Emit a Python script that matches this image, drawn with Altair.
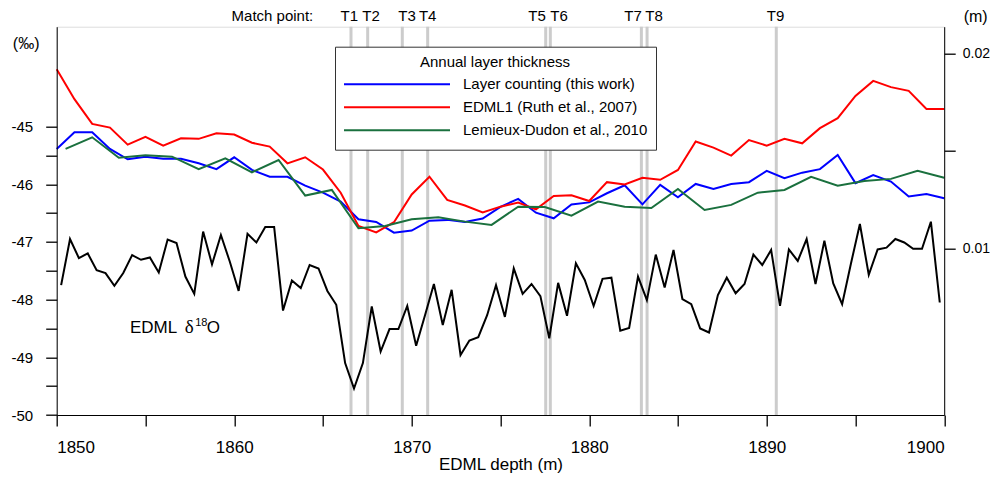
import altair as alt
import pandas as pd

FONT = "Liberation Sans, Arial, Helvetica, sans-serif"

# ---------------- data ----------------
# EDML delta18O (permil), 0.5 m resolution, 1850.25 .. 1899.75 m
d18o_depth = [1850.25 + 0.5 * i for i in range(100)]
d18o_vals = [
    -47.75, -46.95, -47.28, -47.20, -47.49, -47.54, -47.76, -47.54, -47.23, -47.31,
    -47.27, -47.53, -46.96, -47.02, -47.60, -47.90, -46.82, -47.39, -46.88, -47.34,
    -47.85, -46.86, -47.01, -46.74, -46.74, -48.19, -47.67, -47.80, -47.40, -47.46,
    -47.85, -48.09, -49.10, -49.54, -49.10, -48.12, -48.90, -48.51, -48.51, -48.11,
    -48.80, -48.27, -47.73, -48.44, -47.83, -48.96, -48.71, -48.65, -48.27, -47.75,
    -48.30, -47.46, -47.90, -47.73, -47.94, -48.67, -47.71, -48.28, -47.37, -47.66,
    -48.11, -47.64, -47.62, -48.54, -48.49, -47.60, -48.01, -47.22, -47.79, -47.14,
    -47.99, -48.08, -48.50, -48.57, -47.92, -47.62, -47.89, -47.73, -47.22, -47.40,
    -47.14, -48.11, -47.13, -47.33, -46.95, -47.73, -46.98, -47.72, -48.08, -47.37,
    -46.69, -47.57, -47.13, -47.10, -46.95, -47.01, -47.12, -47.12, -46.65, -48.05,
]

# Annual layer thickness (m)
annual_depth = list(range(1850, 1901))
layer_counting = [
    0.01511, 0.01597, 0.01597, 0.01511, 0.01458, 0.01471, 0.01460, 0.01460, 0.01437, 0.01407,
    0.01468, 0.01403, 0.01368, 0.01368, 0.01322, 0.01286, 0.01240, 0.01149, 0.01135, 0.01080,
    0.01091, 0.01142, 0.01146, 0.01135, 0.01153, 0.01213, 0.01254, 0.01183, 0.01154, 0.01225,
    0.01236, 0.01283, 0.01324, 0.01226, 0.01326, 0.01262, 0.01331, 0.01305, 0.01331, 0.01340,
    0.01398, 0.01360, 0.01389, 0.01407, 0.01480, 0.01335, 0.01377, 0.01343, 0.01266, 0.01279,
    0.01257,
]
edml1 = [
    0.01921, 0.01767, 0.01640, 0.01621, 0.01533, 0.01573, 0.01528, 0.01566, 0.01563, 0.01592,
    0.01585, 0.01543, 0.01523, 0.01437, 0.01468, 0.01405, 0.01286, 0.01115, 0.01082, 0.01134,
    0.01277, 0.01368, 0.01249, 0.01220, 0.01184, 0.01214, 0.01235, 0.01200, 0.01269, 0.01273,
    0.01243, 0.01340, 0.01328, 0.01363, 0.01352, 0.01403, 0.01549, 0.01518, 0.01477, 0.01557,
    0.01528, 0.01563, 0.01540, 0.01618, 0.01669, 0.01784, 0.01861, 0.01829, 0.01810, 0.01717,
    0.01717,
]
lemieux_depth = [
    1850.5, 1852.0, 1853.5, 1855.0, 1856.5, 1858.0, 1859.5, 1861.0, 1862.5, 1864.0,
    1865.5, 1867.0, 1868.5, 1870.0, 1871.5, 1873.0, 1874.5, 1876.0, 1877.5, 1879.0,
    1880.5, 1882.0, 1883.5, 1885.0, 1886.5, 1888.0, 1889.5, 1891.0, 1892.5, 1894.0,
    1895.5, 1897.0, 1898.5, 1900.0,
]
lemieux = [
    0.01511, 0.01571, 0.01466, 0.01479, 0.01471, 0.01407, 0.01463, 0.01391, 0.01454, 0.01271,
    0.01300, 0.01103, 0.01115, 0.01149, 0.01160, 0.01137, 0.01120, 0.01214, 0.01212, 0.01168,
    0.01240, 0.01214, 0.01207, 0.01305, 0.01197, 0.01223, 0.01286, 0.01300, 0.01368, 0.01322,
    0.01346, 0.01357, 0.01398, 0.01363,
]

series_names = [
    "Layer counting (this work)",
    "EDML1 (Ruth et al., 2007)",
    "Lemieux-Dudon et al., 2010",
]
series_colors = ["#0000ff", "#ff0000", "#1a703e"]

# Match points
match_names = ["T1", "T2", "T3", "T4", "T5", "T6", "T7", "T8", "T9"]
match_depth = [1866.58, 1867.52, 1869.47, 1870.90, 1877.55, 1877.81, 1882.94, 1883.26, 1890.54]
match_label_depth = [1866.48, 1867.71, 1869.74, 1870.90, 1877.06, 1878.30, 1882.47, 1883.65, 1890.50]

# ---------------- frames ----------------
d18o_df = pd.DataFrame({"depth": d18o_depth, "d18o": d18o_vals})
thick_df = pd.concat([
    pd.DataFrame({"depth": annual_depth, "thickness": layer_counting, "series": series_names[0]}),
    pd.DataFrame({"depth": annual_depth, "thickness": edml1, "series": series_names[1]}),
    pd.DataFrame({"depth": lemieux_depth, "thickness": lemieux, "series": series_names[2]}),
], ignore_index=True)
match_df = pd.DataFrame({"name": match_names, "depth": match_depth})
match_lab_df = pd.DataFrame({"name": match_names, "depth": match_label_depth})

W, H = 887.5, 388.3

TICKS = dict(ticks=True, domain=True, tickColor="black", tickOpacity=1,
             tickWidth=1.3, domainColor="black", zindex=1, grid=False)

x_axis = alt.Axis(
    orient="bottom",
    title="EDML depth (m)",
    values=[1850 + 5 * i for i in range(11)],
    labelExpr="datum.value % 10 == 0 ? '' + datum.value : ''",
    tickSize=11, labelFontSize=17, titleFontSize=17, labelPadding=13,
    titleFontWeight="normal", titleY=49.5, titleBaseline="middle",
    **TICKS,
)
x_scale = alt.Scale(domain=[1850, 1900], nice=False, zero=False)
X = alt.X("depth:Q", scale=x_scale, axis=x_axis)

rules = alt.Chart(match_df).mark_rule(color="#cccccc", strokeWidth=3).encode(x=X)

d18o_line = alt.Chart(d18o_df).mark_line(color="black", strokeWidth=2).encode(
    x=X,
    y=alt.Y(
        "d18o:Q",
        scale=alt.Scale(domain=[-50, -43.27], nice=False, zero=False),
        axis=alt.Axis(
            orient="left",
            title="(‰)",
            values=[-50 + 0.5 * i for i in range(11)],
            labelExpr="datum.value % 1 == 0 ? '' + datum.value : ''",
            tickSize=11, labelFontSize=15, labelPadding=13,
            titleAngle=0, titleX=-31, titleY=17, titleAlign="center",
            titleBaseline="middle", titleFontSize=16, titleFontWeight="normal",
            **TICKS,
        ),
    ),
)

thick_lines = alt.Chart(thick_df).mark_line(strokeWidth=2).encode(
    x=X,
    y=alt.Y(
        "thickness:Q",
        scale=alt.Scale(domain=[0.00142, 0.0214], nice=False, zero=False),
        axis=alt.Axis(
            orient="right",
            title="(m)",
            values=[0.01, 0.015, 0.02],
            labelExpr="(datum.value > 0.0149 && datum.value < 0.0151) ? '' : format(datum.value, '.2f')",
            tickSize=11, labelFontSize=14, labelPadding=7,
            titleAngle=0, titleX=31, titleY=-10, titleAlign="center",
            titleBaseline="middle", titleFontSize=16, titleFontWeight="normal",
            **TICKS,
        ),
    ),
    color=alt.Color(
        "series:N",
        scale=alt.Scale(domain=series_names, range=series_colors),
        sort=series_names,
        legend=alt.Legend(
            title="Annual layer thickness",
            orient="none", legendX=278.3, legendY=20,
            direction="vertical",
            symbolType="stroke", symbolSize=11236, symbolStrokeWidth=2,
            clipHeight=23, rowPadding=0,
            labelFontSize=15, titleFontSize=15, titleFontWeight="normal",
            titleAnchor="middle", titlePadding=3,
            labelOffset=12, labelLimit=400,
            padding=8, strokeColor="#333333", fillColor="white",
            labelFont=FONT, titleFont=FONT,
        ),
    ),
    detail="series:N",
)

match_labels = alt.Chart(match_lab_df).mark_text(
    fontSize=15, baseline="middle", align="center", font=FONT, color="black"
).encode(x=X, y=alt.value(-11), text="name:N")

match_title = alt.Chart(pd.DataFrame({"t": ["Match point:"]})).mark_text(
    fontSize=15, baseline="middle", align="right", font=FONT, color="black"
).encode(x=alt.value(256.6), y=alt.value(-11), text="t:N")

lab1 = alt.Chart(pd.DataFrame({"t": ["EDML"]})).mark_text(
    fontSize=17, baseline="alphabetic", align="left", font=FONT, color="black"
).encode(x=alt.value(73.3), y=alt.value(306), text="t:N")
lab_delta = alt.Chart(pd.DataFrame({"t": ["δ"]})).mark_text(
    fontSize=19, baseline="alphabetic", align="left",
    font="Liberation Serif, Times New Roman, serif", color="black"
).encode(x=alt.value(128), y=alt.value(306), text="t:N")
lab2 = alt.Chart(pd.DataFrame({"t": ["18"]})).mark_text(
    fontSize=11, baseline="alphabetic", align="left", font=FONT, color="black"
).encode(x=alt.value(138.5), y=alt.value(299.5), text="t:N")
lab3 = alt.Chart(pd.DataFrame({"t": ["O"]})).mark_text(
    fontSize=17, baseline="alphabetic", align="left", font=FONT, color="black"
).encode(x=alt.value(150), y=alt.value(306), text="t:N")

chart = alt.layer(
    rules, thick_lines, d18o_line, match_labels, match_title, lab1, lab_delta, lab2, lab3
).resolve_scale(y="independent").properties(
    width=W, height=H,
    autosize=alt.AutoSizeParams(type="none"),
    padding={"left": 48.7, "top": 18.7, "right": 45.8, "bottom": 58},
).configure_view(
    stroke="black", strokeWidth=1
).configure_axis(
    domainColor="black", tickColor="black", labelColor="black", titleColor="black",
    labelFont=FONT, titleFont=FONT, domainWidth=1, tickWidth=1.3,
).configure(background="white")

chart.save("out.html", embed_options={"renderer": "svg", "actions": False})
